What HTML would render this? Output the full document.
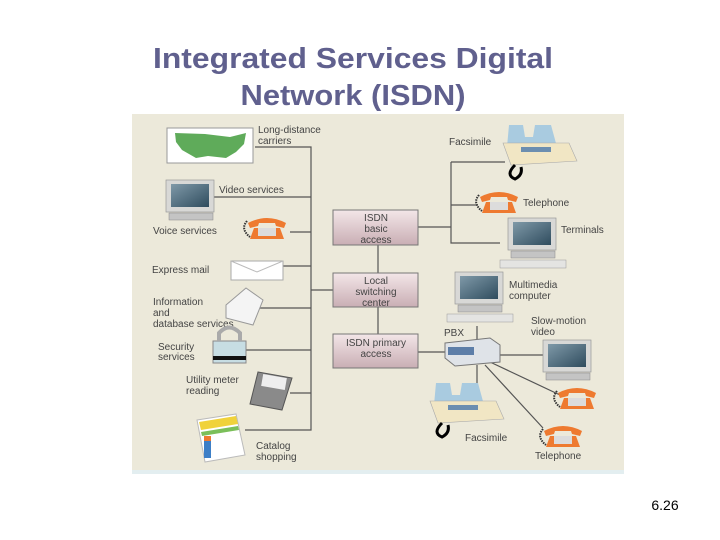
<!DOCTYPE html>
<html><head><meta charset="utf-8"><style>
html,body{margin:0;padding:0;background:#fff;width:720px;height:540px;overflow:hidden}
svg{display:block}
</style></head><body>
<svg width="720" height="540" viewBox="0 0 720 540" xmlns="http://www.w3.org/2000/svg" font-family="Liberation Sans, sans-serif">
<defs>
<linearGradient id="bx" x1="0" y1="0" x2="0" y2="1"><stop offset="0" stop-color="#f3e6e8"/><stop offset="1" stop-color="#c9aeb4"/></linearGradient>
<linearGradient id="scr" x1="0" y1="0" x2="1" y2="1"><stop offset="0" stop-color="#7f99a8"/><stop offset="1" stop-color="#2f4c5e"/></linearGradient>
<g id="phone">
<path d="M2 8 Q21 -2 40 8 L38 13 L30 11 L29 8 L13 8 L12 11 L4 13 Z" fill="#ee7a30"/>
<path d="M8 13 L34 13 L38 24 L4 24 Z" fill="#ee7a30"/>
<rect x="12" y="13" width="18" height="8" fill="#dcdcdc"/>
<path d="M1 6 Q-6 14 4 22" stroke="#333" stroke-width="2" fill="none" stroke-dasharray="1.5 1"/>
</g>
<g id="mon">
<rect x="0" y="0" width="48" height="32" fill="#d8d8d6" stroke="#999" stroke-width="0.7"/>
<rect x="5" y="4" width="38" height="23" fill="url(#scr)"/>
<rect x="3" y="33" width="44" height="7" fill="#c4c4c4" stroke="#888" stroke-width="0.5"/>
</g>
<g id="term">
<use href="#mon"/>
<rect x="-8" y="42" width="66" height="8" fill="#e4e4e2" stroke="#999" stroke-width="0.5"/>
</g>
<g id="fax">
<path d="M6 0 L20 0 L22 12 L30 12 L32 0 L48 0 L54 22 L4 22 Z" fill="#a9cbe0"/>
<path d="M0 18 L66 18 L74 36 L8 40 Z" fill="#f1e6c4" stroke="#aaa" stroke-width="0.6"/>
<rect x="18" y="22" width="30" height="5" fill="#6c8eb0"/>
<path d="M12 40 Q2 50 12 54 Q20 50 18 42" stroke="#000" stroke-width="3" fill="none"/>
</g>
</defs>
<text x="353" y="68" text-anchor="middle" font-size="29" font-weight="bold" fill="#60608e" textLength="400" lengthAdjust="spacingAndGlyphs">Integrated Services Digital</text>
<text x="353" y="105" text-anchor="middle" font-size="29" font-weight="bold" fill="#60608e" textLength="225" lengthAdjust="spacingAndGlyphs">Network (ISDN)</text>
<rect x="132" y="114" width="492" height="358" fill="#ece9da"/>
<rect x="132" y="470" width="492" height="4" fill="#e3eef0"/>
<g stroke="#555" stroke-width="1.2" fill="none">
<path d="M255 147 H311 V430 H245"/>
<path d="M214 197 H311 M290 232 H311 M283 266 H311 M311 290 H333 M255 308 H311 M245 350 H311 M290 393 H311"/>
<path d="M378 245 V273 M378 307 V334"/>
<path d="M418 227 H451 M451 162 V243 H500 M451 162 H505 M451 205 H478"/>
<path d="M418 352 H445 M477 326 V340 M477 365 V392 M500 355 H543 M490 362 L560 395 M485 365 L543 428"/>
</g>
<rect x="333" y="210" width="85" height="35" fill="url(#bx)" stroke="#777"/>
<rect x="333" y="273" width="85" height="34" fill="url(#bx)" stroke="#777"/>
<rect x="333" y="334" width="85" height="34" fill="url(#bx)" stroke="#777"/>
<g font-size="10" fill="#444" text-anchor="middle">
<text x="376" y="221">ISDN</text><text x="376" y="232">basic</text><text x="376" y="243">access</text>
<text x="376" y="284">Local</text><text x="376" y="295">switching</text><text x="376" y="306">center</text>
<text x="376" y="346">ISDN primary</text><text x="376" y="357">access</text>
</g>
<g font-size="10" fill="#444">
<text x="258" y="133">Long-distance</text><text x="258" y="144">carriers</text>
<text x="219" y="193">Video services</text>
<text x="153" y="234">Voice services</text>
<text x="152" y="273">Express mail</text>
<text x="153" y="305">Information</text><text x="153" y="316">and</text><text x="153" y="327">database services</text>
<text x="158" y="350">Security</text><text x="158" y="360">services</text>
<text x="186" y="383">Utility meter</text><text x="186" y="394">reading</text>
<text x="256" y="449">Catalog</text><text x="256" y="460">shopping</text>
<text x="449" y="145">Facsimile</text>
<text x="523" y="206">Telephone</text>
<text x="561" y="233">Terminals</text>
<text x="509" y="288">Multimedia</text><text x="509" y="299">computer</text>
<text x="531" y="324">Slow-motion</text><text x="531" y="335">video</text>
<text x="444" y="336">PBX</text>
<text x="465" y="441">Facsimile</text>
<text x="535" y="459">Telephone</text>
</g>
<rect x="167" y="128" width="86" height="35" fill="#fff" stroke="#999"/>
<path d="M175 133 L205 134 L230 137 L246 133 L244 144 L236 152 L226 158 L208 156 L196 158 L182 150 L176 142 Z" fill="#5fab5a"/>
<use href="#mon" x="166" y="180"/>
<use href="#phone" x="246" y="215"/>
<rect x="231" y="261" width="52" height="19" fill="#fff" stroke="#aaa"/>
<path d="M231 261 L257 272 L283 261" stroke="#bbb" fill="none"/>
<path d="M226 305 L246 288 L263 300 L253 325 L226 318 Z" fill="#f4f4f4" stroke="#999"/>
<rect x="213" y="341" width="33" height="22" fill="#c7dde3" stroke="#888"/>
<path d="M219 341 V333 Q229 322 240 333 V341" stroke="#aaa" stroke-width="4" fill="none"/>
<rect x="213" y="356" width="33" height="4" fill="#111"/>
<path d="M258 372 L292 378 L282 410 L250 404 Z" fill="#8a8a8a" stroke="#555"/>
<rect x="262" y="376" width="24" height="12" fill="#eee" transform="rotate(10 274 382)"/>
<path d="M197 420 L236 414 L245 455 L205 462 Z" fill="#fff" stroke="#bbb"/>
<path d="M199 422 L236 416 L238 424 L201 430 Z" fill="#f0d23a"/>
<path d="M201 432 L238 426 L239 430 L202 436 Z" fill="#7bbf5a"/>
<rect x="204" y="440" width="7" height="18" fill="#3d7fc7"/>
<rect x="204" y="436" width="7" height="5" fill="#ee7a30"/>
<use href="#fax" x="503" y="125"/>
<use href="#phone" x="478" y="189"/>
<use href="#term" x="508" y="218"/>
<use href="#term" x="455" y="272"/>
<path d="M445 343 L490 338 L500 345 L500 362 L455 366 L445 358 Z" fill="#dfe3e8" stroke="#777"/>
<rect x="448" y="347" width="26" height="8" fill="#5d7ea8"/>
<use href="#mon" x="543" y="340"/>
<use href="#phone" x="556" y="385"/>
<use href="#fax" x="430" y="383"/>
<use href="#phone" x="542" y="423"/>
<text x="665" y="510" text-anchor="middle" font-size="14" fill="#000">6.26</text>
</svg>
</body></html>
